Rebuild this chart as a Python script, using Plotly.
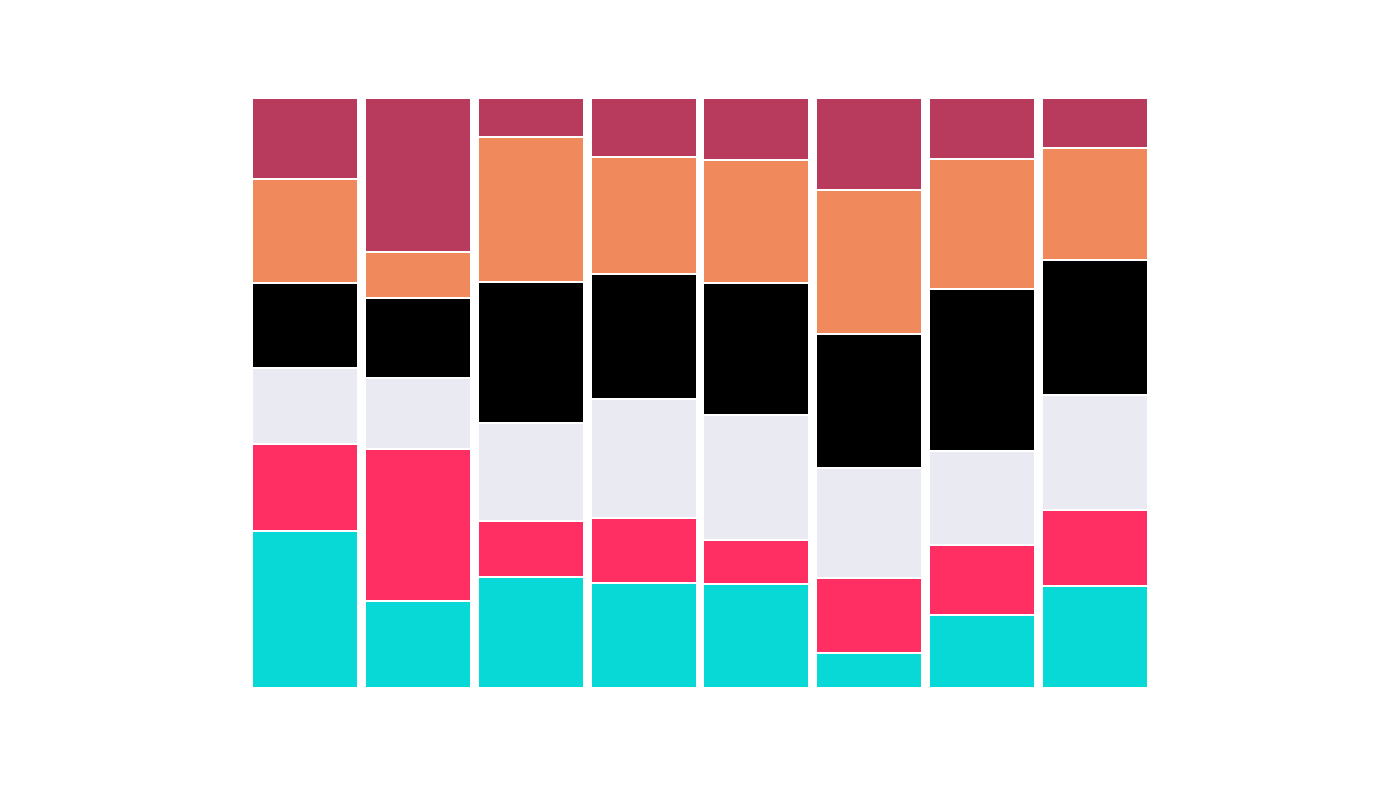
import plotly.graph_objects as go

categories = ["A", "B", "C", "D", "E", "F", "G", "H"]
series_names = ["S1", "S2", "S3", "S4", "S5", "S6"]
s1 = [26.6, 14.7, 18.8, 17.8, 17.6, 5.9, 12.4, 17.3]
s2 = [14.7, 25.8, 9.5, 11.0, 7.5, 12.7, 11.9, 12.9]
s3 = [12.9, 12.0, 16.6, 20.2, 21.2, 18.6, 15.8, 19.5]
s4 = [14.4, 13.6, 23.9, 21.2, 22.4, 22.7, 27.6, 22.9]
s5 = [17.6, 7.8, 24.6, 19.8, 20.8, 24.4, 22.0, 19.0]
s6 = [13.7, 26.1, 6.6, 10.0, 10.5, 15.6, 10.3, 8.5]
series_values = [s1, s2, s3, s4, s5, s6]
colors = ["#08D9D6", "#FF2E63", "#EAEAF2", "#000000", "#F08A5D", "#B83B5E"]

fig = go.Figure()
for name, vals, c in zip(series_names, series_values, colors):
    fig.add_trace(go.Bar(x=categories, y=vals, name=name,
                         marker=dict(color=c, line=dict(color="white", width=2))))

fig.update_layout(
    barmode="stack", barnorm="percent", bargap=0.06,
    width=1400, height=788,
    margin=dict(l=249, r=249, t=98, b=100),
    paper_bgcolor="white", plot_bgcolor="white",
    showlegend=False,
    xaxis=dict(visible=False),
    yaxis=dict(visible=False, range=[0, 100]),
)
fig.write_html("out.html")
